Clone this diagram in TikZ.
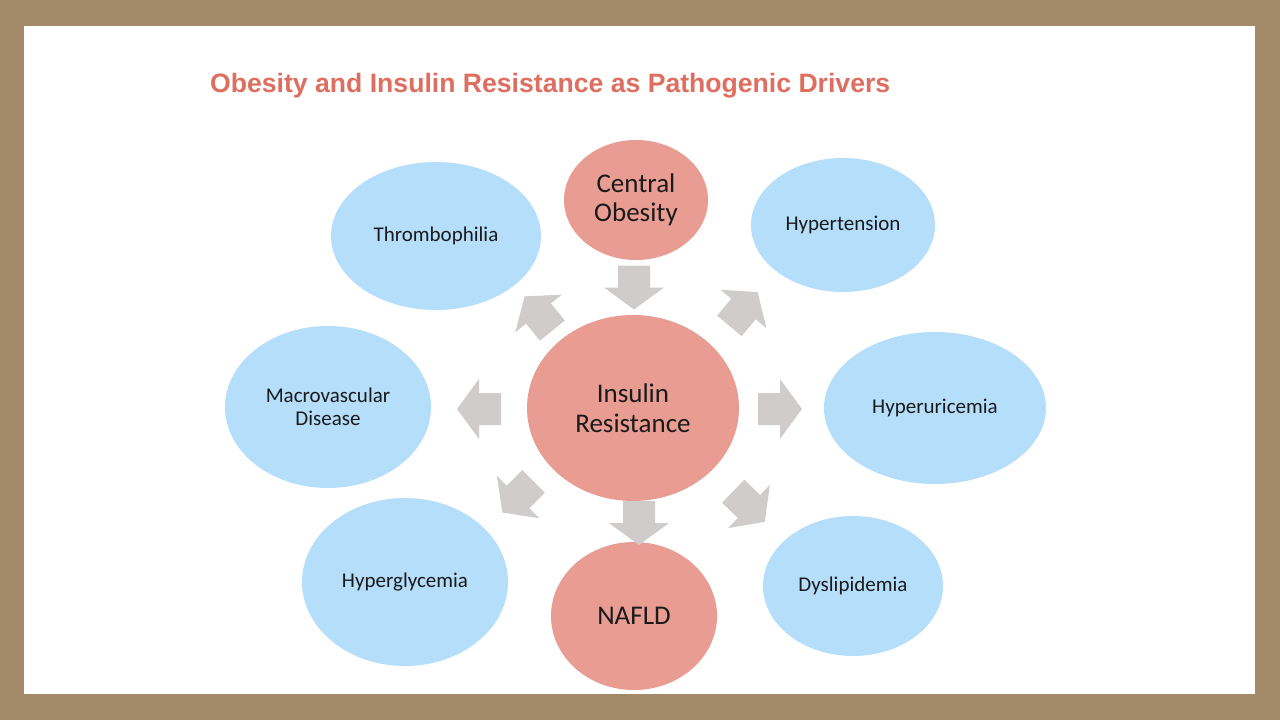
\documentclass[tikz,border=0pt]{standalone}
\usepackage{fontspec}
\setmainfont{Carlito}
\newfontfamily\titlefont{Liberation Sans}
\usetikzlibrary{shapes.geometric}
\definecolor{framebrown}{HTML}{A38B69}
\definecolor{salmon}{HTML}{E89C92}
\definecolor{skyblue}{HTML}{B5DEFB}
\definecolor{arrowgray}{HTML}{D1CCCC}
\definecolor{titlered}{HTML}{DE6E5F}
\definecolor{textdark}{HTML}{1A1A1A}
\tikzset{
  bigoval/.style={ellipse, fill=salmon, inner sep=0pt, align=center, text=textdark,
    font=\fontsize{27}{29.5}\selectfont},
  smalloval/.style={ellipse, fill=skyblue, inner sep=0pt, align=center, text=textdark,
    font=\fontsize{21}{23.5}\selectfont},
  blockarrow/.pic={\fill[arrowgray] (-22,-16) -- (0,-16) -- (0,-30) -- (22,0) -- (0,30) -- (0,16) -- (-22,16) -- cycle;}
}
\begin{document}
\begin{tikzpicture}[x=1pt,y=-1pt]
\fill[framebrown] (0,0) rectangle (1280,720);
\fill[white] (24,26) rectangle (1255,694);
\useasboundingbox (0,0) rectangle (1280,720);
% title
\node[anchor=base west, inner sep=0pt, text=titlered, font=\titlefont\bfseries\fontsize{26.6}{30}\selectfont] (title) at (210,92) {Obesity and Insulin Resistance as Pathogenic Drivers};
% central ovals
\node[bigoval, minimum width=144pt, minimum height=120pt] (obesity) at (636,200) {Central\\Obesity};
\node[bigoval, minimum width=212pt, minimum height=186pt] (ir) at (633,408) {Insulin\\Resistance};
\node[bigoval, minimum width=166pt, minimum height=148pt] (nafld) at (634,616) {NAFLD};
% satellite ovals
\node[smalloval, minimum width=210pt, minimum height=148pt] (thromb) at (436,236) {Thrombophilia};
\node[smalloval, minimum width=184pt, minimum height=134pt] (hypert) at (843,225) {Hypertension};
\node[smalloval, minimum width=206pt, minimum height=162pt] (macro) at (328,407) {Macrovascular\\Disease};
\node[smalloval, minimum width=222pt, minimum height=152pt] (hyperu) at (935,408) {Hyperuricemia};
\node[smalloval, minimum width=206pt, minimum height=168pt] (hyperg) at (405,582) {Hyperglycemia};
\node[smalloval, minimum width=180pt, minimum height=140pt] (dysl) at (853,586) {Dyslipidemia};
% block arrows
\pic[rotate=-90] (aob) at (634,287.5) {blockarrow};
\pic[rotate=-90] (anaf) at (639,523) {blockarrow};
\pic[rotate=0] (ahu) at (780,409) {blockarrow};
\pic[rotate=180] (ama) at (479,409) {blockarrow};
\pic[rotate=129] (ath) at (538.5,313.5) {blockarrow};
\pic[rotate=50] (ahy) at (743.5,309) {blockarrow};
\pic[rotate=-135] (ahg) at (518,497) {blockarrow};
\pic[rotate=-44] (ady) at (749,506.5) {blockarrow};
\end{tikzpicture}
\end{document}
